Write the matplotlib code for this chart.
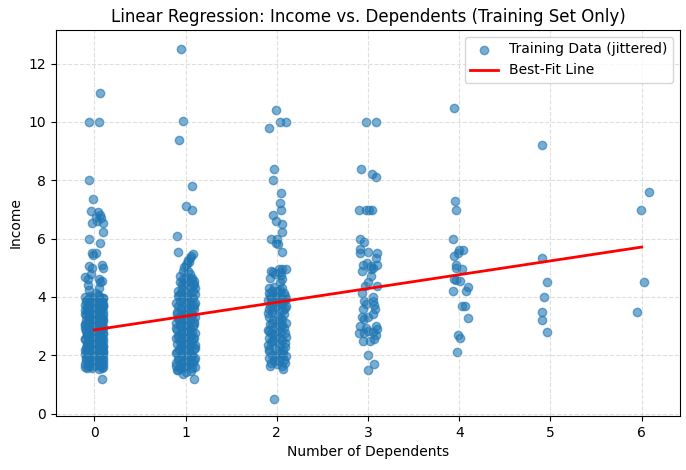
import matplotlib

matplotlib.use("Agg")

import matplotlib.pyplot as plt
import numpy as np

# (jitter, income) for each number of dependents
dep0_jitter = [
    0.06, -0.06, 0.05, -0.06, -0.01, -0.04, 0.04, 0.06, 0.07, 0.02, -0.03, 0.09, 0.03,
    0.09, -0.06, 0.06, -0.03, -0.01, 0.02, -0.06, -0.03, 0.08, 0.09, -0.10, -0.07, 0.05,
    0.06, -0.06, 0.05, 0.08,
    -0.08, 0.05, 0.09, -0.03, -0.10, 0.02, 0.07, -0.06, 0.10, 0.00,
    -0.09, 0.04, 0.08, -0.04, -0.10, 0.06, 0.01, -0.07, 0.09, -0.02,
    0.05, -0.09, 0.10, -0.05, 0.02, 0.07, -0.08, -0.01, 0.09, -0.06,
    0.04, -0.10, 0.00, 0.08, -0.04, 0.06, -0.08, 0.10, -0.02, 0.03,
    -0.09, 0.07, -0.05, 0.01, 0.09, -0.07, 0.04, -0.10, -0.01, 0.08,
    -0.05, 0.05, -0.09, 0.10, 0.00, -0.06, 0.06, -0.10, 0.03, 0.09,
    -0.03, -0.08, 0.06, 0.01, -0.06, 0.10, -0.10, 0.04, -0.02, 0.08,
    -0.08, 0.02, 0.10, -0.05, 0.05, -0.10, 0.07, -0.05, 0.03, -0.08,
    0.04, -0.03, 0.07, -0.06, 0.02, 0.09, -0.04, 0.00, -0.10, 0.10,
]
dep0_income = [
    11.0, 10.0, 10.0, 8.01, 7.36, 6.95, 6.9, 6.8, 6.7, 6.75, 6.55, 6.55, 6.6,
    6.22, 6.0, 5.84, 5.5, 5.45, 5.52, 5.07, 5.0, 5.1, 4.98, 4.7, 4.6, 4.62,
    4.5, 4.25, 4.3, 1.2,
    1.55, 1.52, 1.6, 1.62, 1.7, 1.68, 1.75, 1.8, 1.82, 1.85,
    1.9, 1.93, 1.98, 2.0, 2.05, 2.05, 2.1, 2.12, 2.15, 2.2,
    2.22, 2.25, 2.28, 2.3, 2.33, 2.38, 2.4, 2.42, 2.45, 2.5,
    2.5, 2.55, 2.58, 2.6, 2.62, 2.68, 2.7, 2.72, 2.75, 2.8,
    2.82, 2.85, 2.9, 2.92, 2.95, 3.0, 3.0, 3.05, 3.1, 3.12,
    3.15, 3.2, 3.22, 3.25, 3.3, 3.32, 3.35, 3.4, 3.42, 3.48,
    3.5, 3.55, 3.58, 3.6, 3.65, 3.68, 3.72, 3.75, 3.8, 3.82,
    3.88, 3.9, 3.95, 3.98, 4.02, 4.0, 1.65, 1.72, 1.88, 2.18,
    2.35, 2.65, 2.98, 3.28, 3.52, 3.7, 3.92, 2.0, 2.95, 2.1,
]
# second pass over the dense block at 0 dependents
dep0_core_jitter = [
    -0.02, 0.08, -0.07, 0.04, -0.10, 0.10, 0.00, -0.05, 0.06, -0.09,
    0.02, 0.09, -0.03, 0.05, -0.08, 0.10, -0.01, 0.07, -0.06, 0.03,
    -0.10, 0.08, -0.04, 0.01, 0.10, -0.08, 0.05, -0.02, 0.07, -0.07,
    0.02, -0.10, 0.09, -0.04, 0.05, -0.08, 0.00, 0.10, -0.05, 0.04,
    -0.09, 0.07, -0.02, 0.10, -0.06, 0.03, -0.10, 0.06, -0.03, 0.09,
    -0.07, 0.01, 0.08, -0.05, 0.04, -0.09, 0.10, -0.01, 0.06, -0.07,
    0.02, -0.10, 0.08, -0.04, 0.05, -0.08, 0.00, 0.10, -0.06, 0.03,
    -0.09, 0.07, -0.02, 0.09, -0.05, 0.04, -0.07, 0.02, 0.08, -0.04,
]
dep0_core_income = [
    1.58, 1.56, 1.63, 1.66, 1.6, 1.7, 1.74, 1.77, 1.79, 1.84,
    1.87, 1.9, 1.95, 1.96, 1.99, 2.03, 2.06, 2.09, 2.13, 2.16,
    2.19, 2.24, 2.26, 2.29, 2.32, 2.36, 2.39, 2.44, 2.47, 2.46,
    2.53, 2.57, 2.56, 2.63, 2.66, 2.69, 2.73, 2.77, 2.78, 2.84,
    2.87, 2.89, 2.93, 2.97, 2.99, 3.03, 3.07, 3.09, 3.13, 3.17,
    3.19, 3.23, 3.27, 3.29, 3.33, 3.37, 3.39, 3.44, 3.46, 3.49,
    3.54, 3.57, 3.59, 3.63, 3.66, 3.69, 3.73, 3.77, 3.79, 3.84,
    3.86, 3.89, 3.94, 3.97, 4.05, 4.08, 4.4, 4.15, 4.55, 4.8,
]

dep1_jitter = [
    -0.05, -0.03, -0.07, 0.07, 0.01, 0.07, -0.09, -0.08, 0.08,
    0.06, 0.05, 0.03, 0.02, 0.00, -0.02, 0.04, -0.03,
    -0.06, 0.06, 0.09, 0.08, 0.10, -0.04, 0.00, -0.08, 0.03,
    0.09, -0.03, -0.08,
    -0.09, 0.06, -0.02, 0.10, -0.06, 0.03, -0.10, 0.08, -0.03, 0.05,
    -0.08, 0.10, 0.00, -0.05, 0.07, -0.10, 0.03, -0.02, 0.09, -0.07,
    0.05, -0.04, 0.10, -0.09, 0.01, 0.07, -0.06, 0.04, -0.10, 0.09,
    -0.02, 0.06, -0.07, 0.02, 0.10, -0.04, -0.09, 0.05, 0.00, 0.08,
    -0.06, 0.03, -0.10, 0.09, -0.03, 0.05, -0.08, 0.10, 0.00, -0.05,
    0.07, -0.09, 0.03, 0.09, -0.04, -0.08, 0.05, 0.01, 0.10, -0.06,
    0.04, -0.02, 0.08, -0.08, 0.02, 0.10, -0.05, 0.06, -0.04, 0.02,
    -0.07, 0.08, -0.01, 0.04,
]
dep1_income = [
    12.5, 10.04, 9.39, 7.82, 7.13, 6.98, 6.09, 5.53, 5.48,
    5.4, 5.32, 5.25, 5.18, 5.1, 5.02, 5.2, 4.9,
    4.73, 4.6, 4.55, 4.4, 4.3, 4.45, 4.5, 4.2, 4.15,
    1.2, 1.37, 1.5,
    1.5, 1.45, 1.55, 1.6, 1.62, 1.68, 1.72, 1.75, 1.8, 1.82,
    1.88, 1.9, 1.95, 2.0, 2.02, 2.08, 2.1, 2.15, 2.2, 2.22,
    2.28, 2.3, 2.35, 2.38, 2.42, 2.45, 2.5, 2.52, 2.58, 2.6,
    2.62, 2.68, 2.7, 2.75, 2.78, 2.82, 2.88, 2.9, 2.95, 3.0,
    3.02, 3.08, 3.1, 3.15, 3.18, 3.22, 3.28, 3.3, 3.35, 3.4,
    3.42, 3.48, 3.52, 3.58, 3.6, 3.68, 3.7, 3.75, 3.8, 3.85,
    3.88, 3.92, 3.98, 4.02, 4.05, 4.1, 4.12, 1.98, 2.4, 2.85,
    3.25, 3.65, 1.65, 3.45,
]
dep1_core_jitter = [
    0.00, -0.06, 0.07, -0.10, 0.04, -0.03, 0.09, -0.07, 0.02, 0.06,
    -0.09, 0.00, 0.10, -0.05, 0.04, -0.01, 0.08, -0.08, 0.03, -0.04,
    0.07, -0.10, 0.01, 0.09, -0.06, 0.04, -0.02, 0.07, -0.09, 0.02,
    -0.05, 0.09, -0.10, 0.03, -0.03, 0.06, -0.07, 0.01, 0.08, -0.04,
    0.05, -0.02, 0.09, -0.06, 0.03, 0.07, -0.03, 0.00, 0.05, 0.03,
]
dep1_core_income = [
    1.42, 1.56, 1.58, 1.64, 1.7, 1.76, 1.84, 1.92, 1.86, 2.06,
    2.12, 2.18, 2.25, 2.33, 2.36, 2.48, 2.55, 2.64, 2.66, 2.72,
    2.8, 2.92, 3.05, 3.08, 3.12, 3.2, 3.32, 3.38, 3.42, 3.55,
    3.62, 3.72, 3.78, 3.82, 3.95, 4.0, 4.08, 4.18, 4.22, 4.28,
    4.35, 4.4, 4.45, 4.5, 4.55, 4.65, 4.62, 4.7, 4.8, 4.88,
]

dep2_jitter = [
    -0.01, 0.04, 0.10, -0.08, -0.03, -0.04, 0.05, 0.03, 0.05, -0.04, -0.01, 0.06,
    0.06, -0.06, 0.00, 0.01, -0.01, 0.06,
    -0.06, -0.04, -0.07, 0.02, 0.06, 0.10, 0.05, 0.06, -0.02, 0.03, 0.04,
    -0.03, 0.07,
    -0.07, 0.06, 0.09, -0.03, -0.09, 0.04, 0.10, -0.05, 0.01, -0.08,
    0.07, -0.02, 0.09, -0.10, 0.03, -0.05, 0.06, -0.08, 0.10, 0.00,
    -0.06, 0.05, -0.10, 0.08, -0.02, 0.03, -0.07, 0.10, -0.04, 0.06,
    -0.09, 0.01, 0.08, -0.05, 0.04, -0.08, 0.09, -0.01, 0.06, -0.06,
    0.02, -0.10, 0.10, -0.03, 0.05, -0.07, 0.00, 0.08, -0.05, 0.04,
    -0.08, 0.07, -0.03, 0.02, -0.02,
]
dep2_income = [
    10.42, 10.0, 10.0, 9.79, 8.4, 8.01, 7.58, 7.22, 6.98, 6.82, 6.62, 6.51,
    6.22, 5.99, 5.99, 5.8, 5.84, 5.53,
    4.9, 4.85, 4.65, 4.95, 4.95, 4.95, 4.75, 4.6, 4.8, 4.85, 4.5,
    0.51, 1.54,
    1.62, 1.65, 1.75, 1.8, 1.9, 1.92, 1.98, 2.02, 2.08, 2.15,
    2.18, 2.25, 2.3, 2.35, 2.4, 2.48, 2.52, 2.6, 2.62, 2.68,
    2.75, 2.8, 2.88, 2.92, 2.98, 3.02, 3.08, 3.12, 3.2, 3.25,
    3.3, 3.35, 3.4, 3.48, 3.52, 3.6, 3.62, 3.7, 3.75, 3.8,
    3.85, 3.9, 3.92, 3.98, 4.0, 4.05, 4.1, 4.12, 4.2, 4.25,
    4.3, 2.05, 2.55, 3.15, 3.65,
]
dep2_core_jitter = [
    0.00, -0.06, 0.08, -0.02, 0.05, -0.09, 0.02, 0.09, -0.06, 0.04,
    -0.03, 0.09, -0.08, 0.01, 0.06, -0.05, 0.03, -0.10, 0.07, -0.04,
    0.10, -0.07, 0.00, 0.08, -0.05, 0.04, -0.02, 0.09, -0.09, 0.02,
    0.06, -0.03, 0.00, -0.06, 0.05, 0.02,
]
dep2_core_income = [
    1.7, 1.72, 1.85, 1.95, 2.12, 2.22, 2.28, 2.42, 2.45, 2.58,
    2.72, 2.78, 2.82, 2.9, 3.05, 3.1, 3.28, 3.45, 3.55, 3.58,
    3.7, 3.72, 3.82, 3.88, 3.92, 3.95, 4.02, 4.05, 4.12, 4.18,
    4.3, 4.35, 4.22, 3.98, 3.85, 1.8,
]

dep3_jitter = [
    -0.02, 0.09, -0.08, 0.04, 0.09, -0.10, -0.02, 0.01, 0.04, -0.09, -0.04,
    -0.09, -0.09, 0.10, 0.09, 0.00, -0.05, -0.01, 0.03, 0.05, -0.07, 0.03,
    0.10, 0.03, 0.00, -0.03, 0.10, -0.07, 0.05, 0.06, 0.07, 0.08, -0.04,
    -0.02, -0.05, -0.07, 0.05, 0.00, -0.04, -0.09, -0.02, 0.09, 0.10, -0.10,
    -0.04, 0.00, 0.05, 0.09, -0.06, 0.02, 0.07, 0.00, 0.07, 0.00,
]
dep3_income = [
    10.0, 10.0, 8.4, 8.2, 8.12, 6.98, 6.98, 6.98, 6.98, 5.99, 5.89,
    5.66, 5.52, 5.52, 5.35, 5.53, 5.1, 5.15, 5.05, 5.0, 4.9, 4.95,
    5.1, 4.71, 4.5, 4.39, 4.39, 4.14, 4.0, 3.85, 3.72, 3.6, 3.85,
    3.75, 3.6, 3.3, 3.4, 3.3, 3.25, 3.0, 2.95, 3.02, 2.9, 2.75,
    2.78, 2.82, 2.8, 2.68, 2.5, 2.48, 2.55, 2.0, 1.71, 1.51,
]

dep4_jitter = [
    -0.06, -0.05, -0.04, -0.07, 0.00, 0.04, -0.01, -0.06, -0.04, 0.03, -0.03,
    -0.06, -0.03, 0.01, 0.10, 0.07, -0.07, 0.03, 0.06, 0.10, -0.01, 0.01, -0.02,
]
dep4_income = [
    10.48, 7.29, 6.98, 5.99, 5.62, 5.62, 5.51, 5.39, 5.1, 4.96, 5.0,
    4.62, 4.58, 4.55, 4.33, 4.22, 4.22, 3.69, 3.69, 3.29, 2.7, 2.6, 2.13,
]

dep5_jitter = [-0.09, -0.09, -0.04, -0.07, -0.09, -0.09, -0.04]
dep5_income = [9.21, 5.35, 4.51, 4.0, 3.49, 3.21, 2.8]

dep6_jitter = [0.08, -0.01, 0.02, -0.05]
dep6_income = [7.6, 6.98, 4.51, 3.49]

# fitted line, read at its two ends
fit_dependents = [0, 6]
fit_income = [2.87, 5.71]

groups = [
    (0, dep0_jitter + dep0_core_jitter, dep0_income + dep0_core_income),
    (1, dep1_jitter + dep1_core_jitter, dep1_income + dep1_core_income),
    (2, dep2_jitter + dep2_core_jitter, dep2_income + dep2_core_income),
    (3, dep3_jitter, dep3_income),
    (4, dep4_jitter, dep4_income),
    (5, dep5_jitter, dep5_income),
    (6, dep6_jitter, dep6_income),
]
x_all = np.concatenate([k + np.array(j) for k, j, _ in groups])
y_all = np.concatenate([np.array(v) for _, _, v in groups])

fig = plt.figure(figsize=(6.86, 4.70), dpi=100)
ax = fig.add_axes([56 / 686, 54 / 470, 624 / 686, 386 / 470])

ax.scatter(x_all, y_all, alpha=0.6, label="Training Data (jittered)")
ax.plot(fit_dependents, fit_income, color="red", linewidth=2, label="Best-Fit Line")

ax.set_xlim(-0.42, 6.42)
ax.set_ylim(-0.08, 13.15)
ax.set_title("Linear Regression: Income vs. Dependents (Training Set Only)")
ax.set_xlabel("Number of Dependents")
ax.set_ylabel("Income")
ax.grid(True, linestyle="--", alpha=0.4)
ax.legend(loc="upper right")

fig.savefig("out.png", dpi=100)
